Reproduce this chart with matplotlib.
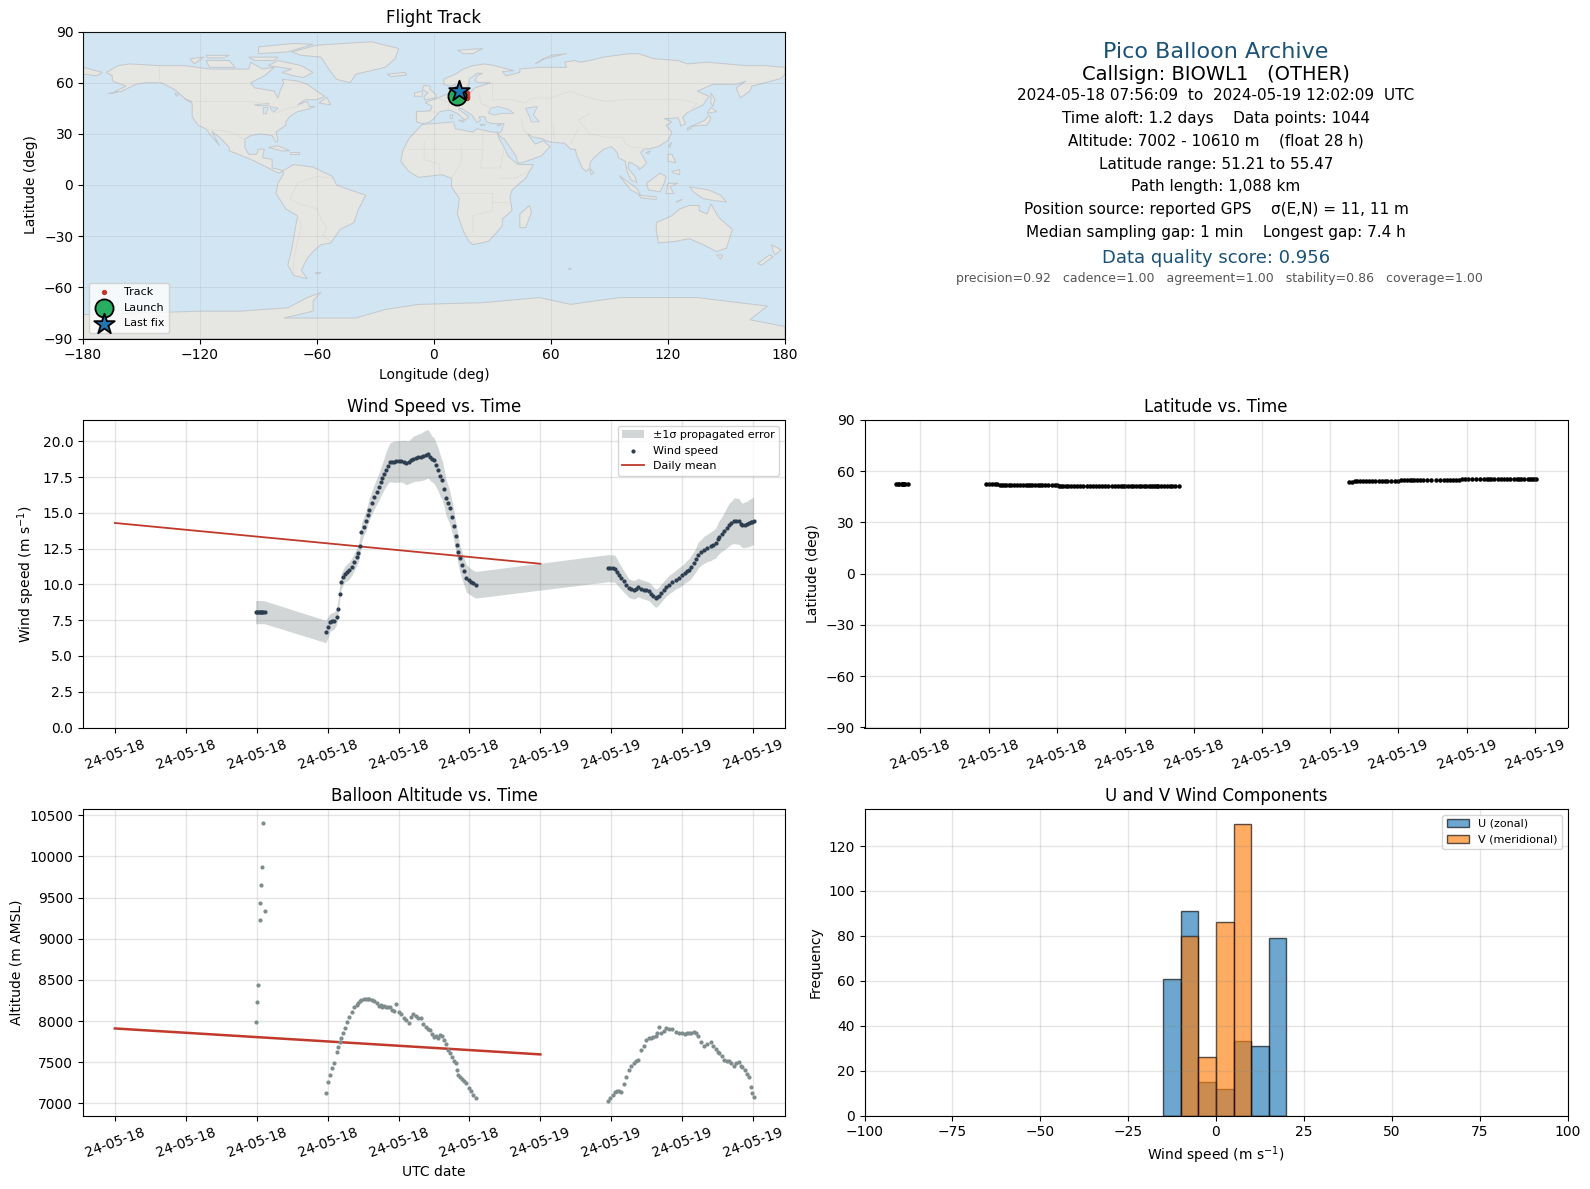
import pandas as pd
import matplotlib
matplotlib.use('Agg')
import matplotlib.pyplot as plt
import matplotlib.dates as mdates
from matplotlib.patches import Polygon

# hours since 2024-05-18 00:00 UTC
hours = [
    7.94, 8.00, 8.06, 8.17, 8.18, 8.22, 8.28, 8.34, 8.45,
    11.90, 12.03, 12.15, 12.27, 12.37, 12.50, 12.58, 12.67, 12.75, 12.87,
    12.97, 13.10, 13.22, 13.36, 13.50, 13.64, 13.74, 13.82, 13.91, 14.03,
    14.15, 14.25, 14.34, 14.48, 14.62, 14.76, 14.90, 15.00, 15.09, 15.19,
    15.28, 15.39, 15.50, 15.62, 15.76, 15.88, 16.03, 16.15, 16.30, 16.44,
    16.59, 16.72, 16.84, 16.97, 17.12, 17.25, 17.40, 17.53, 17.66, 17.80,
    17.90, 18.00, 18.12, 18.24, 18.35, 18.47, 18.58, 18.69, 18.80, 18.90,
    19.02, 19.13, 19.22, 19.31, 19.38, 19.45, 19.57, 19.69, 19.82, 19.95,
    20.06, 20.20, 20.36,
    27.82, 27.95, 28.10, 28.20, 28.32, 28.43, 28.57, 28.71, 28.85, 28.99,
    29.13, 29.27, 29.40, 29.52, 29.68, 29.84, 29.98, 30.12, 30.26, 30.38,
    30.50, 30.60, 30.69, 30.83, 30.97, 31.10, 31.25, 31.44, 31.63, 31.82,
    32.00, 32.14, 32.28, 32.38, 32.52, 32.66, 32.78, 32.91, 33.07, 33.23,
    33.40, 33.60, 33.75, 33.89, 34.00, 34.08, 34.22, 34.36, 34.50, 34.64,
    34.78, 34.92, 35.06, 35.20, 35.30, 35.39, 35.54, 35.68, 35.78, 35.88,
    35.96, 36.03,
]
wind_speed = [
    8.05, 8.07, 8.07, 8.07, 8.07, 8.07, 8.07, 8.07, 8.05,
    6.71, 7.05, 7.37, 7.42, 7.48, 7.72, 8.30, 9.35, 10.16, 10.50,
    10.72, 10.85, 10.98, 11.25, 11.56, 11.92, 12.19, 12.70, 13.66, 14.05,
    14.41, 14.85, 15.22, 15.70, 16.11, 16.50, 16.85, 17.20, 17.44, 17.75,
    18.02, 18.30, 18.53, 18.57, 18.58, 18.60, 18.60, 18.62, 18.58, 18.52,
    18.55, 18.68, 18.78, 18.83, 18.88, 18.92, 19.00, 19.07, 19.14, 18.90,
    18.75, 18.67, 18.35, 18.02, 17.60, 17.27, 16.70, 16.04, 15.70, 15.34,
    14.70, 14.06, 13.40, 12.77, 12.30, 11.84, 11.35, 10.91, 10.44, 10.30,
    10.20, 10.08, 9.98,
    11.14, 11.12, 11.12, 11.10, 10.90, 10.68, 10.45, 10.21, 9.98, 9.74,
    9.68, 9.63, 9.70, 9.79, 9.70, 9.63, 9.58, 9.51, 9.35, 9.18,
    9.04, 9.10, 9.21, 9.42, 9.63, 9.80, 9.98, 10.15, 10.33, 10.48,
    10.63, 10.80, 10.95, 11.03, 11.25, 11.49, 11.75, 12.07, 12.25, 12.42,
    12.55, 12.66, 12.78, 12.89, 13.15, 13.31, 13.50, 13.71, 13.95, 14.17,
    14.32, 14.45, 14.43, 14.41, 14.25, 14.13, 14.18, 14.22, 14.30, 14.36,
    14.40, 14.45,
]
wind_sigma = [
    0.81, 0.81, 0.81, 0.81, 0.81, 0.81, 0.81, 0.81, 0.80,
    0.78, 0.72, 0.62, 0.60, 0.60, 0.55, 0.55, 0.55, 0.55, 0.55,
    0.55, 0.60, 0.60, 0.60, 0.60, 0.60, 0.60, 0.65, 0.65, 0.65,
    0.70, 0.70, 0.75, 0.80, 0.85, 0.90, 0.95, 1.00, 1.05, 1.10,
    1.20, 1.25, 1.35, 1.40, 1.45, 1.45, 1.45, 1.45, 1.50, 1.55,
    1.50, 1.55, 1.60, 1.60, 1.65, 1.65, 1.70, 1.70, 1.70, 1.65,
    1.60, 1.60, 1.55, 1.50, 1.45, 1.35, 1.30, 1.25, 1.20, 1.15,
    1.10, 1.05, 1.00, 1.00, 1.00, 0.95, 0.95, 0.95, 0.95, 0.95,
    0.93, 0.93, 0.93,
    0.95, 0.95, 0.95, 0.95, 0.90, 0.85, 0.80, 0.75, 0.70, 0.65,
    0.65, 0.65, 0.65, 0.65, 0.65, 0.65, 0.65, 0.65, 0.65, 0.65,
    0.64, 0.62, 0.62, 0.62, 0.62, 0.62, 0.65, 0.65, 0.65, 0.70,
    0.70, 0.70, 0.75, 0.75, 0.80, 0.80, 0.85, 0.90, 0.90, 0.95,
    0.95, 1.00, 1.00, 1.05, 1.10, 1.15, 1.20, 1.30, 1.40, 1.50,
    1.50, 1.60, 1.60, 1.60, 1.55, 1.55, 1.60, 1.60, 1.65, 1.65,
    1.65, 1.67,
]
altitude = [
    7984, 8226, 8443, 9229, 9435, 9652, 9870, 10400, 9338,
    7125, 7254, 7340, 7430, 7488, 7629, 7680, 7740, 7790, 7860,
    7915, 7985, 8050, 8105, 8165, 8200, 8225, 8240, 8255, 8266,
    8270, 8262, 8268, 8260, 8240, 8225, 8180, 8195, 8165, 8181,
    8170, 8175, 8165, 8140, 8125, 8206, 8110, 8085, 8040, 8010,
    7980, 8050, 8085, 8065, 8040, 8032, 7970, 7931, 7905, 7891,
    7840, 7802, 7815, 7800, 7830, 7819, 7770, 7725, 7650, 7610,
    7560, 7520, 7490, 7408, 7350, 7325, 7300, 7275, 7250, 7190,
    7146, 7105, 7070,
    7030, 7060, 7105, 7135, 7145, 7150, 7140, 7230, 7320, 7400,
    7455, 7488, 7510, 7530, 7650, 7700, 7765, 7795, 7800, 7810,
    7815, 7860, 7930, 7850, 7880, 7918, 7900, 7900, 7865, 7860,
    7850, 7848, 7850, 7855, 7860, 7865, 7850, 7820, 7750, 7700,
    7720, 7742, 7700, 7660, 7630, 7615, 7580, 7530, 7520, 7510,
    7490, 7455, 7490, 7500, 7460, 7438, 7400, 7356, 7320, 7200,
    7127, 7078,
]
latitude = [
    52.4, 52.4, 52.4, 52.4, 52.4, 52.4, 52.4, 52.4, 52.4,
    52.4, 52.4, 52.4, 52.4, 52.4, 51.9, 51.9, 51.9, 51.9, 51.9,
    51.9, 51.9, 51.9, 51.9, 51.9, 51.9, 51.9, 51.9, 51.9, 51.9,
    51.9, 51.9, 51.9, 51.9, 51.9, 51.9, 51.9, 51.9, 51.4, 51.4,
    51.4, 51.4, 51.4, 51.4, 51.4, 51.4, 51.4, 51.4, 51.4, 51.4,
    51.4, 51.4, 51.3, 51.3, 51.3, 51.3, 51.3, 51.3, 51.3, 51.3,
    51.3, 51.3, 51.3, 51.3, 51.3, 51.3, 51.3, 51.3, 51.3, 51.3,
    51.3, 51.3, 51.3, 51.3, 51.3, 51.3, 51.3, 51.3, 51.4, 51.5,
    51.6, 51.6, 51.6,
    53.7, 53.9, 54.0, 54.0, 54.0, 54.1, 54.1, 54.1, 54.1, 54.1,
    54.1, 54.1, 54.1, 54.1, 54.1, 54.1, 54.1, 54.6, 54.6, 54.6,
    54.6, 54.6, 54.6, 54.6, 54.6, 54.6, 54.6, 54.6, 54.6, 54.6,
    54.6, 54.6, 54.6, 54.6, 54.6, 54.6, 55.3, 55.3, 55.3, 55.3,
    55.3, 55.3, 55.3, 55.3, 55.3, 55.3, 55.3, 55.3, 55.3, 55.3,
    55.3, 55.3, 55.3, 55.3, 55.4, 55.4, 55.4, 55.4, 55.4, 55.4,
    55.4, 55.4,
]

mean_hours = [0, 24]
wind_daily_mean = [14.3, 11.45]
alt_daily_mean = [7910, 7595]

track_lon = [12, 13, 15, 16, 17, 17, 17, 17, 17, 17, 16.8, 16.5, 16]
track_lat = [52.4, 52.3, 51.9, 51.6, 51.4, 51.3, 51.5, 52.0, 52.6, 53.7, 54.1, 54.6, 55.3]
launch_lon, launch_lat = [11.8], [52.0]
last_lon, last_lat = [12.8], [55.4]

bin_left = [-15, -10, -5, 0, 5, 10, 15]
u_counts = [61, 91, 15, 12, 33, 31, 79]
v_counts = [0, 80, 26, 86, 130, 0, 0]

lon_ticks = [-180, -120, -60, 0, 60, 120, 180]
lat_ticks = [-90, -60, -30, 0, 30, 60, 90]
hist_ticks = [-100, -75, -50, -25, 0, 25, 50, 75, 100]

# rough coastlines, lon/lat
land = [
    # north america
    [(-168, 66), (-162, 70), (-156, 71), (-141, 70), (-128, 70), (-115, 68), (-108, 68), (-95, 68), (-94, 72),
     (-88, 68), (-82, 69), (-87, 64), (-94, 60), (-92, 57), (-82, 55), (-80, 51), (-79, 55), (-77, 60), (-78, 62),
     (-70, 61), (-65, 59), (-60, 55), (-56, 52), (-60, 50), (-66, 50), (-70, 47), (-65, 49), (-64, 46), (-61, 46),
     (-66, 44), (-70, 43), (-74, 40), (-76, 37), (-76, 35), (-81, 31), (-80, 26), (-81, 25), (-83, 29), (-89, 30),
     (-94, 29), (-97, 27), (-97, 22), (-95, 18), (-91, 18), (-90, 21), (-87, 21), (-88, 16), (-83, 15), (-83, 10),
     (-79, 9), (-77, 8), (-80, 7), (-85, 10), (-92, 14), (-96, 16), (-105, 20), (-105, 22), (-109, 27), (-114, 31.5),
     (-110, 23), (-115, 30), (-117, 33), (-121, 35), (-124, 40), (-124, 48), (-128, 51), (-133, 56), (-140, 60),
     (-148, 60), (-153, 59), (-160, 55), (-165, 54), (-158, 58), (-165, 61), (-165, 64)],
    # arctic islands
    [(-73, 78), (-60, 82), (-32, 84), (-18, 80), (-20, 74), (-25, 69), (-40, 65), (-43, 60), (-50, 62), (-54, 68), (-58, 75), (-68, 76)],
    [(-80, 73), (-68, 70), (-62, 66), (-67, 63), (-72, 64), (-78, 66), (-73, 68), (-85, 70)],
    [(-117, 73), (-105, 73), (-102, 69), (-115, 69)],
    [(-125, 74), (-118, 75), (-123, 71)],
    [(-90, 77), (-75, 78), (-62, 82.5), (-72, 83), (-90, 81)],
    [(-95, 75), (-80, 75), (-82, 73), (-92, 73)],
    [(-117, 76), (-105, 76), (-108, 74.5), (-116, 74.5)],
    [(-59, 48), (-53, 47), (-55, 51.5)],
    # caribbean
    [(-85, 22), (-80, 23), (-74, 20), (-78, 20)],
    [(-74, 19.5), (-69, 19.5), (-69, 18), (-74, 18)],
    # europe and asia
    [(-9, 37), (-9, 43), (-2, 43.5), (-1, 46), (-4.5, 48.5), (2, 51), (4, 52), (8, 54), (8.5, 57), (10.5, 57.5),
     (10, 54.5), (14, 54), (19, 54.5), (21, 57), (24, 58), (29, 60), (23, 60), (21, 61), (22, 64), (25, 65.5),
     (22, 65.5), (18, 62), (18, 59), (16, 56), (13, 55.5), (11, 59), (8, 58), (5, 59), (5, 62), (11, 65), (15, 68),
     (20, 70), (26, 71), (31, 70), (41, 67), (35, 66.5), (37, 64), (44, 66), (44, 68), (54, 69), (60, 69), (68, 69),
     (67, 72), (72, 73), (75, 72), (80, 73), (87, 75), (100, 77), (105, 77), (113, 74), (125, 73), (130, 71),
     (140, 72), (150, 71), (160, 70), (170, 70), (180, 69), (180, 65), (178, 62.5), (170, 60), (163, 58), (162, 55),
     (157, 51), (155, 57), (160, 61), (155, 59), (143, 59), (135, 55), (141, 52), (138, 47), (130, 42.5), (127.5, 39.5),
     (129, 36), (126.5, 34.5), (126, 37.5), (125, 39.5), (121, 39), (118, 39), (122, 37), (119, 35), (122, 31),
     (120, 26), (115, 22.5), (110, 21), (108, 21.5), (106, 19), (109, 13), (107, 10.5), (105, 9), (105, 10.5),
     (102, 12.5), (100, 13.5), (99.5, 10), (103, 5), (104, 1.5), (101, 3), (99, 8), (98, 14), (94.5, 16), (94, 19),
     (91, 22.5), (87, 21), (82, 16), (80, 13), (80, 10), (78, 8), (76, 10), (73, 18), (72.5, 21), (70, 21),
     (67, 24.5), (61, 25), (57, 26), (56, 27), (51, 28), (48, 30), (50.5, 26), (52, 24), (56, 26), (59.5, 22.5),
     (55, 17), (45, 13), (43, 13), (42, 17), (39, 22), (36, 27), (34.5, 28), (32.5, 30), (34.5, 31.5), (36, 36),
     (30, 36), (27, 37), (26, 40), (23, 40), (24, 38), (22, 36.5), (19.5, 41), (14, 45), (12.5, 44.5), (18, 40),
     (16, 38), (12, 42), (8, 44), (3, 43), (0, 39), (-2, 37), (-5.5, 36)],
    [(-180, 69), (-175, 67.5), (-170, 66), (-173, 64), (-180, 65)],
    [(-24, 65), (-15, 66), (-14, 64.5), (-22, 63.5)],
    [(-5, 50), (1, 51), (1, 53), (-2, 56), (-2, 58), (-5, 58.5), (-6, 56), (-3, 54), (-5, 52)],
    [(-10, 52), (-6, 52), (-6, 55), (-10, 54)],
    [(12, 79), (25, 80), (20, 77), (15, 77)],
    [(52, 71), (56, 74), (68, 77), (60, 76), (55, 73)],
    [(142, 54), (144, 50), (143, 46), (142, 48)],
    [(131, 34), (136, 35), (140, 35), (142, 39), (141, 41), (139, 38), (135, 36)],
    [(140, 42), (145, 43), (142, 45.5)],
    [(130, 32), (132, 33.5), (130, 33.5)],
    [(120, 18), (122, 18), (124, 13), (120, 14)],
    [(122, 8), (126, 9), (126, 6), (123, 7)],
    [(109, 1), (116, 7), (119, 5), (118, 1), (116, -4), (110, -3)],
    [(95, 5.5), (104, -2), (106, -6), (101, -3)],
    [(105, -6), (114, -7), (114, -8.5), (106, -7.5)],
    [(119, -5), (120, 1), (125, 1), (121, -1), (123, -5)],
    [(131, -1), (141, -3), (147, -6), (150, -10), (143, -9), (138, -8), (133, -4)],
    [(80, 9.5), (82, 7), (80.5, 6)],
    # small islands
    [(120.2, 23), (121.8, 25), (121, 22)],
    [(108.7, 19), (111, 20), (110, 18.2)],
    [(124, -10), (127, -8.5), (125, -9.8)],
    [(12.5, 38), (15.5, 38), (15, 36.8)],
    [(8.2, 41), (9.7, 41), (9.5, 39), (8.5, 39)],
    [(23.5, 35.5), (26.3, 35.3), (24, 35)],
    [(32.3, 35), (34.5, 35.6), (33.5, 34.6)],
    [(-61, -51.5), (-58, -51.3), (-59.5, -52.3)],
    [(68.8, -49), (70.5, -49), (69.5, -49.7)],
    [(-167, 53.5), (-162, 55), (-164, 54)],
    [(-133, 54), (-131, 53), (-132, 52)],
    [(-128, 50.5), (-124, 49), (-125, 48.5)],
    # africa
    [(32.5, 30), (33.5, 27), (36, 22), (38, 17), (43, 12), (51, 12), (47, 4), (40, -3), (39, -7), (40, -15), (35, -20),
     (35, -24), (32, -28), (28, -33), (20, -35), (18, -33), (15, -27), (12, -17), (13, -8), (9, -1), (9, 4), (4, 6),
     (-4, 5), (-8, 4.5), (-13, 8), (-17, 14), (-16, 20), (-13, 27), (-9, 32), (-6, 35.5), (0, 36), (10, 37), (11, 33),
     (20, 31), (22, 33), (30, 31), (32.5, 31)],
    [(49, -12), (50, -16), (47, -25), (44, -25), (44, -17)],
    # south america
    [(-78, 8), (-72, 12), (-62, 10.5), (-52, 5), (-50, 0), (-44, -2.5), (-35, -6), (-39, -15), (-41, -22), (-48, -26),
     (-53, -34), (-58, -35), (-62, -39), (-65, -43), (-68, -50), (-65, -55), (-72, -53), (-75, -47), (-73, -38),
     (-70, -18), (-76, -14), (-81, -5), (-80, 1), (-77, 7)],
    # oceania
    [(114, -22), (122, -18), (126, -14), (131, -12), (136, -12), (136, -15), (140, -17), (142, -11), (146, -19),
     (153, -26), (150, -37), (145, -39), (138, -35), (131, -31.5), (124, -33), (115, -34), (114, -26)],
    [(145, -41), (148, -41), (147, -43.5)],
    [(173, -35), (178, -38), (175, -41), (174, -39)],
    [(172, -41), (174, -42), (168, -47), (166, -46)],
    # antarctica
    [(-180, -90), (-180, -76), (-120, -74), (-100, -74), (-75, -72), (-65, -66), (-58, -63), (-62, -68), (-62, -74),
     (-77, -78), (-40, -78), (-25, -73), (-8, -70), (25, -69), (54, -66), (70, -70), (95, -66), (135, -66), (171, -71),
     (162, -79), (180, -83), (180, -90)],
]
inland_water = [
    [(28, 42), (29, 45), (33, 46), (36, 45), (38, 44.5), (41, 42), (35, 42), (31, 41)],
    [(47, 45), (53, 46), (51, 41), (54, 37), (50, 37), (49, 40)],
    [(-92, 47), (-85, 48), (-84.5, 46.5), (-90, 46.5)],
    [(-87.5, 45.5), (-85, 45.5), (-86, 42), (-87.5, 41.7)],
    [(-84, 46), (-80, 45), (-82, 43), (-83.5, 44)],
]
borders = [
    [(-123, 49), (-95, 49), (-88, 48), (-83, 46), (-82.5, 42), (-79, 43), (-75, 45), (-70, 46), (-67, 47)],
    [(-141, 70), (-141, 60)],
    [(-117, 32.5), (-106, 31.5), (-101, 29.5), (-97, 26)],
    [(-52, 4), (-60, 5), (-70, 1), (-74, -8), (-69, -11), (-60, -14), (-58, -20), (-55, -25), (-57, -30), (-53, -33)],
    [(-70, -18), (-68, -24), (-70, -33), (-72, -45), (-72, -52)],
    [(30, 60), (30, 50), (40, 50), (47, 48), (50, 51), (60, 51), (70, 55), (80, 51), (88, 49), (98, 50), (107, 50), (117, 50), (127, 50), (135, 48), (131, 43)],
    [(80, 42), (74, 38), (80, 30), (88, 28), (97, 28), (98, 24), (102, 22), (108, 21.5)],
    [(74, 33), (70, 24)],
    [(45, 38), (46, 32), (48, 30)],
    [(61, 36), (62, 25)],
    [(25, 32), (25, 20), (24, 10), (34, 10), (36, 22)],
    [(-13, 21), (25, 21)],
    [(14, 23), (14, 13), (9, 4)],
    [(-5, 25), (-5, 15), (3, 12), (3, 6)],
    [(12, -5), (30, -5), (30, -15), (20, -18), (20, -28)],
    [(40, -10), (30, -10)],
    [(34, 4), (42, 4), (48, 8)],
    [(2, 51), (8, 48), (7, 44)],
    [(-2, 43), (3, 42.5)],
    [(14, 54), (15, 51), (17, 48), (10, 47)],
    [(23, 54), (24, 48), (29, 45)],
]

W, H = 1590, 1189
fig = plt.figure(figsize=(W / 100, H / 100), dpi=100)


def box(left, top, right, bottom):
    return [left / W, 1 - bottom / H, (right - left) / W, (bottom - top) / H]


times = pd.Timestamp('2024-05-18') + pd.to_timedelta(hours, unit='h')
mean_times = pd.Timestamp('2024-05-18') + pd.to_timedelta(mean_hours, unit='h')
t_lo = pd.Timestamp('2024-05-18') + pd.to_timedelta(-1.8, unit='h')
t_hi = pd.Timestamp('2024-05-18') + pd.to_timedelta(37.8, unit='h')
t_lo2 = pd.Timestamp('2024-05-18') + pd.to_timedelta(6.54, unit='h')
t_hi2 = pd.Timestamp('2024-05-18') + pd.to_timedelta(37.43, unit='h')

# flight track map
ax_map = fig.add_axes(box(83, 31.5, 785, 338.5))
ax_map.set_facecolor('#d2e5f2')
for poly in land:
    ax_map.add_patch(Polygon(poly, closed=True, facecolor='#e6e6e3', edgecolor='#c3c8cc', lw=0.7, zorder=1))
for poly in inland_water:
    ax_map.add_patch(Polygon(poly, closed=True, facecolor='#d2e5f2', edgecolor='#c3c8cc', lw=0.6, zorder=1.1))
for line in borders:
    ax_map.plot([p[0] for p in line], [p[1] for p in line], color='#dcdcd9', lw=0.6, zorder=1.2)
ax_map.scatter(track_lon, track_lat, s=8, color='#c0392b', label='Track', zorder=3)
ax_map.scatter(launch_lon, launch_lat, s=170, color='#27ae60', edgecolor='black', lw=1.3, label='Launch', zorder=4)
ax_map.scatter(last_lon, last_lat, s=240, marker='*', color='#1f77b4', edgecolor='black', lw=1.3, label='Last fix', zorder=5)
ax_map.set_xlim(-180, 180)
ax_map.set_ylim(-90, 90)
ax_map.set_xticks(lon_ticks)
ax_map.set_yticks(lat_ticks)
ax_map.grid(True, color='gray', alpha=0.15, lw=0.6, zorder=2)
ax_map.set_axisbelow(False)
ax_map.set_xlabel('Longitude (deg)')
ax_map.set_ylabel('Latitude (deg)')
ax_map.set_title('Flight Track')
ax_map.legend(loc='lower left', fontsize=8)

# summary text
title_x = 1216 / W
summary = [
    (52, 'Pico Balloon Archive', 16, '#1a5276'),
    (74, 'Callsign: BIOWL1   (OTHER)', 14, 'black'),
    (95, '2024-05-18 07:56:09  to  2024-05-19 12:02:09  UTC', 11, 'black'),
    (118, 'Time aloft: 1.2 days    Data points: 1044', 11, 'black'),
    (141, 'Altitude: 7002 - 10610 m    (float 28 h)', 11, 'black'),
    (164, 'Latitude range: 51.21 to 55.47', 11, 'black'),
    (187, 'Path length: 1,088 km', 11, 'black'),
    (209.5, 'Position source: reported GPS    σ(E,N) = 11, 11 m', 11, 'black'),
    (233, 'Median sampling gap: 1 min    Longest gap: 7.4 h', 11, 'black'),
    (258, 'Data quality score: 0.956', 13, '#1a5276'),
    (279, 'precision=0.92   cadence=1.00   agreement=1.00   stability=0.86   coverage=1.00', 9, '#555555'),
]
for y, txt, size, col in summary:
    x = title_x + 3 / W if size == 9 else title_x
    fig.text(x, 1 - y / H, txt, fontsize=size, color=col, ha='center', va='center')

# wind speed
ax_wind = fig.add_axes(box(83, 420, 785, 727.5))
lower = [v - s for v, s in zip(wind_speed, wind_sigma)]
upper = [v + s for v, s in zip(wind_speed, wind_sigma)]
ax_wind.fill_between(times, lower, upper, color='#7f8c8d', alpha=0.35, lw=0, label='±1σ propagated error')
ax_wind.scatter(times, wind_speed, s=4, color='#2c3e50', label='Wind speed', zorder=3)
ax_wind.plot(mean_times, wind_daily_mean, color='#c0392b', lw=1.3, label='Daily mean', zorder=2)
ax_wind.set_ylim(0, 21.5)
ax_wind.set_xlim(t_lo, t_hi)
ax_wind.xaxis.set_major_locator(mdates.HourLocator(byhour=[0, 4, 8, 12, 16, 20]))
ax_wind.xaxis.set_major_formatter(mdates.DateFormatter('%y-%m-%d'))
ax_wind.tick_params(axis='x', rotation=20)
ax_wind.grid(True, color='gray', alpha=0.2, lw=1)
ax_wind.set_ylabel('Wind speed (m s$^{-1}$)')
ax_wind.set_title('Wind Speed vs. Time')
ax_wind.legend(loc='upper right', fontsize=8)

# latitude
ax_lat = fig.add_axes(box(864.5, 420, 1567.5, 727.5))
ax_lat.scatter(times, latitude, s=5, color='black')
ax_lat.set_ylim(-90, 90)
ax_lat.set_yticks(lat_ticks)
ax_lat.set_xlim(t_lo2, t_hi2)
ax_lat.xaxis.set_major_locator(mdates.HourLocator(byhour=[0, 3, 6, 9, 12, 15, 18, 21]))
ax_lat.xaxis.set_major_formatter(mdates.DateFormatter('%y-%m-%d'))
ax_lat.tick_params(axis='x', rotation=20)
ax_lat.grid(True, color='gray', alpha=0.2, lw=1)
ax_lat.set_ylabel('Latitude (deg)')
ax_lat.set_title('Latitude vs. Time')

# altitude
ax_alt = fig.add_axes(box(83, 809, 785, 1115.5))
ax_alt.scatter(times, altitude, s=4, color='#7f8c8d', zorder=3)
ax_alt.plot(mean_times, alt_daily_mean, color='#c0392b', lw=1.8, zorder=2)
ax_alt.set_ylim(6853, 10575)
ax_alt.set_xlim(t_lo, t_hi)
ax_alt.xaxis.set_major_locator(mdates.HourLocator(byhour=[0, 4, 8, 12, 16, 20]))
ax_alt.xaxis.set_major_formatter(mdates.DateFormatter('%y-%m-%d'))
ax_alt.tick_params(axis='x', rotation=20)
ax_alt.grid(True, color='gray', alpha=0.2, lw=1)
ax_alt.set_xlabel('UTC date')
ax_alt.set_ylabel('Altitude (m AMSL)')
ax_alt.set_title('Balloon Altitude vs. Time')

# u and v histogram
ax_hist = fig.add_axes(box(864.5, 809, 1567.5, 1115.5))
ax_hist.bar(bin_left, u_counts, width=5, align='edge', color='#1f77b4', alpha=0.65, edgecolor='black', label='U (zonal)')
ax_hist.bar(bin_left, v_counts, width=5, align='edge', color='#ff7f0e', alpha=0.65, edgecolor='black', label='V (meridional)')
ax_hist.set_xlim(-100, 100)
ax_hist.set_ylim(0, 136.5)
ax_hist.set_xticks(hist_ticks)
ax_hist.grid(True, color='gray', alpha=0.2, lw=1)
ax_hist.set_xlabel('Wind speed (m s$^{-1}$)')
ax_hist.set_ylabel('Frequency')
ax_hist.set_title('U and V Wind Components')
ax_hist.legend(loc='upper right', fontsize=8)

plt.savefig('out.png', dpi=100)
